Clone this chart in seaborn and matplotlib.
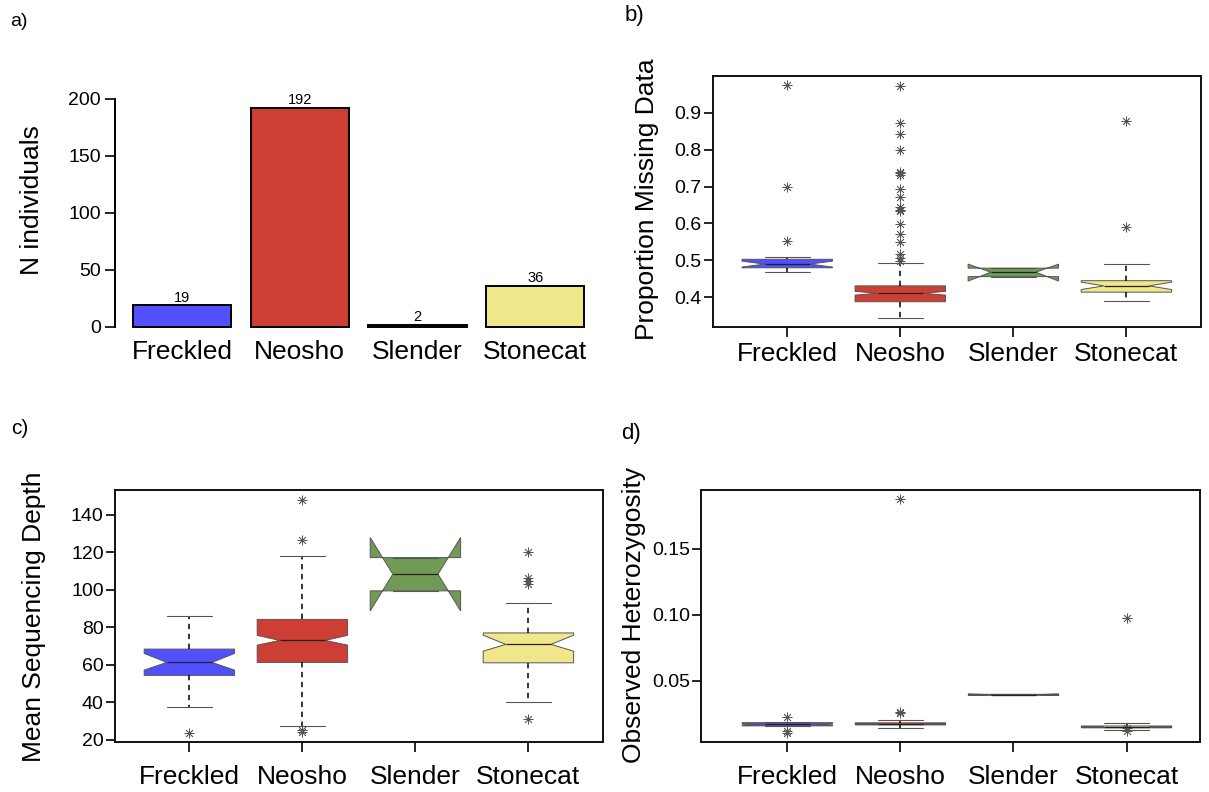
import numpy as np
import pandas as pd
import matplotlib
matplotlib.use('Agg')
import matplotlib.pyplot as plt
import seaborn as sns

# species and colours
species = ['Freckled', 'Neosho', 'Slender', 'Stonecat']
colors = ['#5050FF', '#CD3E34', '#709B54', '#F0E68A']

# a) sample sizes
n_individuals = [19, 192, 2, 36]

# b) proportion missing data (box stats read off the figure)
miss_q1 = [0.480, 0.388, 0.456, 0.414]
miss_med = [0.490, 0.411, 0.468, 0.431]
miss_q3 = [0.503, 0.431, 0.479, 0.445]
miss_lo = [0.468, 0.343, 0.456, 0.389]
miss_hi = [0.510, 0.492, 0.479, 0.489]
miss_cilo = [0.482, 0.406, 0.444, 0.421]
miss_cihi = [0.498, 0.416, 0.490, 0.441]
miss_out = [[0.975, 0.698, 0.553],
            [0.972, 0.873, 0.842, 0.800, 0.740, 0.736, 0.730, 0.693, 0.672,
             0.644, 0.637, 0.633, 0.598, 0.571, 0.549, 0.517, 0.506, 0.497],
            [],
            [0.877, 0.591]]

# c) mean sequencing depth
depth_q1 = [54.4, 61.3, 99.4, 61.1]
depth_med = [61.3, 73.0, 108.3, 70.9]
depth_q3 = [68.4, 84.2, 117.1, 77.0]
depth_lo = [37.4, 27.3, 99.4, 40.0]
depth_hi = [85.8, 117.8, 117.1, 92.8]
depth_cilo = [57.2, 70.5, 88.7, 67.3]
depth_cihi = [66.1, 75.7, 127.8, 75.8]
depth_out = [[23.9],
             [148.0, 126.7, 25.3, 24.2],
             [],
             [120.1, 106.0, 104.8, 103.3, 31.0]]

# d) observed heterozygosity
het_q1 = [0.0160, 0.0167, 0.0393, 0.0145]
het_med = [0.0172, 0.0175, 0.0396, 0.0152]
het_q3 = [0.0184, 0.0183, 0.0399, 0.0159]
het_lo = [0.0158, 0.0144, 0.0393, 0.0127]
het_hi = [0.0186, 0.0205, 0.0399, 0.0180]
het_cilo = [0.0167, 0.0172, 0.0390, 0.0149]
het_cihi = [0.0177, 0.0178, 0.0402, 0.0155]
het_out = [[0.0225, 0.0121, 0.0108],
           [0.1877, 0.0265, 0.0257],
           [],
           [0.0980, 0.0142, 0.0118]]

sns.set_style('ticks')
plt.rcParams['font.family'] = ['Liberation Sans', 'DejaVu Sans']
plt.rcParams.update({'text.color': 'black', 'axes.labelcolor': 'black',
                     'xtick.color': 'black', 'ytick.color': 'black',
                     'axes.edgecolor': 'black'})

W, H = 1209, 792
fig = plt.figure(figsize=(W / 100, H / 100), dpi=100)


def px_axes(left, right, top, bottom):
    return fig.add_axes([left / W, 1 - bottom / H, (right - left) / W, (bottom - top) / H])


def box_panel(ax, q1, med, q3, lo, hi, cilo, cihi, out):
    stats = []
    for i, sp in enumerate(species):
        stats.append(dict(label=sp, q1=q1[i], med=med[i], q3=q3[i],
                          whislo=lo[i], whishi=hi[i], cilo=cilo[i], cihi=cihi[i],
                          fliers=np.array(out[i])))
    res = ax.bxp(stats, positions=range(4), widths=0.8, capwidths=0.4,
                 shownotches=True, patch_artist=True, manage_ticks=False,
                 boxprops=dict(edgecolor='#555555', linewidth=0.7),
                 whiskerprops=dict(color='black', linestyle=(0, (3.5, 3)), linewidth=1.1),
                 capprops=dict(color='#555555', linewidth=0.8),
                 medianprops=dict(color='#222222', linewidth=0.9),
                 flierprops=dict(marker=(8, 2, 0), markersize=7, markeredgecolor='#555555',
                                 markeredgewidth=0.55, linestyle='none'))
    for patch, c in zip(res['boxes'], colors):
        patch.set_facecolor(c)
    ax.set_xticks(range(4))
    ax.set_xticklabels(species)
    for s in ax.spines.values():
        s.set_visible(True)
        s.set_linewidth(1.4)
        s.set_color('#111111')
    ax.tick_params(axis='x', length=7, width=1.2, labelsize=19, pad=4)
    ax.tick_params(axis='y', length=6.5, width=1.2, labelsize=14, pad=1.5)


# a) bar chart
ax_a = px_axes(114.8, 602.5, 89.5, 336.1)
df_a = pd.DataFrame({'species': species, 'n': n_individuals})
sns.barplot(data=df_a, x='species', y='n', hue='species', palette=colors, legend=False,
            width=0.833, edgecolor='black', linewidth=1.4, saturation=1, ax=ax_a)
for cont in ax_a.containers:
    ax_a.bar_label(cont, fontsize=10.5, padding=0.5)
ax_a.set_xlim(-0.57, 3.57)
ax_a.set_ylim(-8, 208)
ax_a.set_yticks([0, 50, 100, 150, 200])
sns.despine(ax=ax_a, bottom=True)
ax_a.spines['left'].set_bounds(0, 200)
ax_a.spines['left'].set_linewidth(1.4)
ax_a.tick_params(axis='x', length=0, labelsize=19, pad=3)
ax_a.tick_params(axis='y', length=7, width=1.2, labelsize=14, pad=3)
ax_a.set_xlabel('')
ax_a.set_ylabel('N individuals', fontsize=19)

# b) proportion missing
ax_b = px_axes(712.6, 1201, 76, 327)
box_panel(ax_b, miss_q1, miss_med, miss_q3, miss_lo, miss_hi, miss_cilo, miss_cihi, miss_out)
ax_b.set_xlim(-0.66, 3.66)
ax_b.set_ylim(0.3196, 0.9994)
ax_b.set_yticks([0.4, 0.5, 0.6, 0.7, 0.8, 0.9])
ax_b.set_ylabel('Proportion Missing Data', fontsize=19)

# c) sequencing depth
ax_c = px_axes(114.8, 603, 490, 741.5)
box_panel(ax_c, depth_q1, depth_med, depth_q3, depth_lo, depth_hi, depth_cilo, depth_cihi, depth_out)
ax_c.set_xlim(-0.66, 3.66)
ax_c.set_ylim(19.2, 153.1)
ax_c.set_yticks([20, 40, 60, 80, 100, 120, 140])
ax_c.tick_params(axis='x', pad=10)
ax_c.set_ylabel('Mean Sequencing Depth', fontsize=19)

# d) heterozygosity
ax_d = px_axes(701, 1200, 490, 741.7)
box_panel(ax_d, het_q1, het_med, het_q3, het_lo, het_hi, het_cilo, het_cihi, het_out)
ax_d.set_xlim(-0.764, 3.65)
ax_d.set_ylim(0.004, 0.1947)
ax_d.set_yticks([0.05, 0.10, 0.15])
ax_d.set_yticklabels(['0.05', '0.10', '0.15'])
ax_d.tick_params(axis='x', pad=10)
ax_d.set_ylabel('Observed Heterozygosity', fontsize=19)

# y label positions
for ax, xl, yl in [(ax_a, -0.169, 0.552), (ax_b, -0.135, 0.51),
                   (ax_c, -0.165, 0.495), (ax_d, -0.134, 0.503)]:
    ax.yaxis.label.set_va('center')
    ax.yaxis.set_label_coords(xl, yl)

# panel letters
for lab, x, y, fs in [('a)', 10, 21, 14), ('b)', 625, 16, 16),
                      ('c)', 11, 428, 15), ('d)', 621, 433, 16)]:
    fig.text(x / W, 1 - y / H, lab, fontsize=fs, ha='left', va='center')

fig.savefig('out.png', dpi=100)
